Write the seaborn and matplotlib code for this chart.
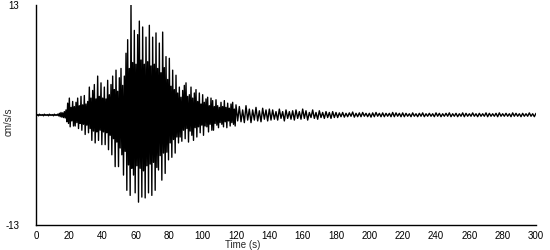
import numpy as np
import pandas as pd
import matplotlib
matplotlib.use("Agg")
import matplotlib.pyplot as plt
import seaborn as sns

# sample times (s): 1-s steps through the strong motion, 2-s steps in the coda
time_strong = np.arange(0, 121)
time_tail = np.arange(122, 301, 2)

# positive peaks (cm/s/s)
peak_strong = [0.05, 0.05, 0.1, 0.05, 0.05, 0.1, 0.05, 0.05, 0.1, 0.05, 0.05, 0.1, 0.05, 0.1,
               0.2, 0.3, 0.25, 0.4,
               0.6, 1.4, 2.0, 0.9, 1.6,
               1.0, 1.5, 2.0, 1.1, 2.2, 1.2, 2.3, 1.3,
               1.6, 3.3, 2.0, 2.9, 3.6, 1.9, 4.6, 2.2, 3.8, 2.0,
               3.3, 1.9, 4.1, 2.4, 3.6, 4.6,
               3.0, 5.3, 2.8, 4.4, 5.5, 3.5, 4.6, 7.3,
               8.9, 5.5, 13.0, 6.2, 10.0, 6.0,
               9.5, 11.1, 6.5, 10.4, 6.0, 9.2,
               6.3, 10.6, 5.8, 9.2, 6.0, 9.7,
               5.5, 8.5, 5.0, 9.8, 5.6, 6.9,
               4.2, 6.7, 3.4, 5.3, 3.0, 4.7, 2.6,
               3.3, 2.1, 2.9, 3.5, 3.8, 2.2, 2.4, 3.3, 2.0, 2.6,
               3.0, 1.6, 2.6, 1.3, 2.4, 1.5, 1.9, 2.1, 1.1, 2.0,
               1.7, 1.0, 1.8, 1.1, 0.9, 1.5, 1.0, 1.7, 0.9, 1.4, 0.8, 1.3, 1.5, 0.7, 1.2]
# negative troughs (cm/s/s)
trough_strong = [-0.05, -0.1, -0.05, -0.05, -0.1, -0.05, -0.05, -0.1, -0.05, -0.05, -0.1, -0.05, -0.05, -0.1,
                 -0.2, -0.25, -0.3, -0.35,
                 -0.8, -1.0, -1.4, -0.7, -1.3,
                 -1.3, -0.9, -1.6, -1.0, -1.8, -1.1, -2.3, -1.2,
                 -2.1, -1.6, -3.0, -1.9, -3.3, -2.0, -3.0, -1.8, -3.5, -2.0,
                 -3.5, -2.1, -4.1, -2.4, -4.7, -2.8,
                 -6.1, -3.2, -6.1, -3.9, -4.7, -7.1, -4.3, -8.9,
                 -5.9, -9.5, -6.3, -7.1, -9.2, -6.0,
                 -10.3, -6.3, -9.7, -6.6, -9.8, -6.0,
                 -9.2, -5.8, -9.5, -5.6, -8.9, -6.2,
                 -6.5, -4.8, -7.7, -4.5, -6.9, -4.4,
                 -5.3, -3.3, -5.0, -2.9, -4.5, -2.6, -3.3,
                 -2.6, -3.1, -1.8, -2.8, -1.6, -3.2, -1.9, -2.4, -3.0, -1.5,
                 -2.6, -1.4, -2.1, -1.2, -2.4, -1.3, -1.4, -2.0, -1.1, -1.8,
                 -1.8, -1.0, -1.2, -1.5, -0.9, -1.1, -1.4, -0.8, -1.5, -0.7, -1.3, -0.9, -1.1, -1.3, -0.7]

peak_tail = [1.0, 0.6, 1.1, 0.7, 0.6, 0.9, 0.5, 0.8, 0.6, 0.7,
             0.6, 0.4, 0.7, 0.4, 0.6, 0.4, 0.5, 0.6, 0.4, 0.7,
             0.5, 0.3, 0.6, 0.3, 0.5, 0.3, 0.4, 0.3, 0.4, 0.3,
             0.25, 0.3, 0.2, 0.25, 0.35, 0.2, 0.25, 0.3, 0.2, 0.2,
             0.25, 0.3, 0.2, 0.25, 0.2, 0.2, 0.3, 0.25, 0.2, 0.25,
             0.2, 0.15, 0.25, 0.15, 0.2, 0.25, 0.15, 0.2, 0.15, 0.25,
             0.2, 0.15, 0.2, 0.25, 0.15, 0.2, 0.15, 0.25, 0.2, 0.15,
             0.25, 0.15, 0.2, 0.15, 0.25, 0.2, 0.15, 0.2, 0.25, 0.15,
             0.2, 0.15, 0.25, 0.2, 0.15, 0.2, 0.15, 0.25, 0.15, 0.2]
trough_tail = [-0.8, -0.9, -0.6, -0.9, -0.6, -0.7, -0.8, -0.5, -0.7, -0.6,
               -0.5, -0.6, -0.4, -0.7, -0.4, -0.5, -0.6, -0.4, -0.5, -0.4,
               -0.6, -0.3, -0.4, -0.5, -0.3, -0.4, -0.3, -0.4, -0.3, -0.3,
               -0.2, -0.25, -0.2, -0.15, -0.25, -0.2, -0.2, -0.15, -0.2, -0.25,
               -0.2, -0.15, -0.2, -0.2, -0.15, -0.2, -0.2, -0.15, -0.2, -0.2,
               -0.15, -0.2, -0.15, -0.2, -0.15, -0.2, -0.15, -0.15, -0.2, -0.15,
               -0.2, -0.15, -0.15, -0.2, -0.15, -0.2, -0.15, -0.2, -0.15, -0.15,
               -0.15, -0.2, -0.15, -0.15, -0.2, -0.15, -0.15, -0.2, -0.15, -0.15,
               -0.15, -0.2, -0.15, -0.15, -0.2, -0.15, -0.15, -0.15, -0.2, -0.15]

x_ticks = list(range(0, 301, 20))
y_limits = [-13, 13]

# interleave peaks and troughs into a single trace
t_all = np.concatenate([time_strong, time_tail]).astype(float)
p_all = np.concatenate([peak_strong, peak_tail])
q_all = np.concatenate([trough_strong, trough_tail])
steps = np.diff(t_all, append=t_all[-1] + 2)
tt, vv = [], []
for t, p, q, s in zip(t_all, p_all, q_all, steps):
    tt += [t, t + s / 2]
    vv += [p, q]
df = pd.DataFrame({"Time (s)": tt, "cm/s/s": vv})

sns.set_style("white")
plt.rcParams["font.family"] = ["Liberation Sans", "DejaVu Sans"]

fig = plt.figure(figsize=(5.5, 2.5), dpi=100)
ax = fig.add_axes([36 / 550, 0.1, 500 / 550, 0.88])
sns.lineplot(data=df, x="Time (s)", y="cm/s/s", sort=False, estimator=None,
             color="black", linewidth=1.0, ax=ax)

ax.set_xlim(0, 300)
ax.set_ylim(*y_limits)
ax.set_xticks(x_ticks)
ax.set_yticks(y_limits)
ax.set_yticklabels([str(v) for v in y_limits])
for s in ["top", "right"]:
    ax.spines[s].set_visible(False)
for s in ["left", "bottom"]:
    ax.spines[s].set_color("black")
    ax.spines[s].set_linewidth(1)
ax.tick_params(axis="x", direction="out", length=4, width=1, labelsize=7, pad=0.5, colors="black")
ax.tick_params(axis="y", direction="out", length=5, width=1, labelsize=7, pad=7, colors="black")
ax.yaxis.get_major_ticks()[1].tick1line.set_visible(False)
ax.set_xlabel("")
fig.text(243 / 550, 0.0, "Time (s)", fontsize=7, ha="center", va="bottom")
ax.set_ylabel("cm/s/s", fontsize=7)
ax.yaxis.set_label_coords(-0.045, 0.47)

fig.savefig("out.png", dpi=100)
